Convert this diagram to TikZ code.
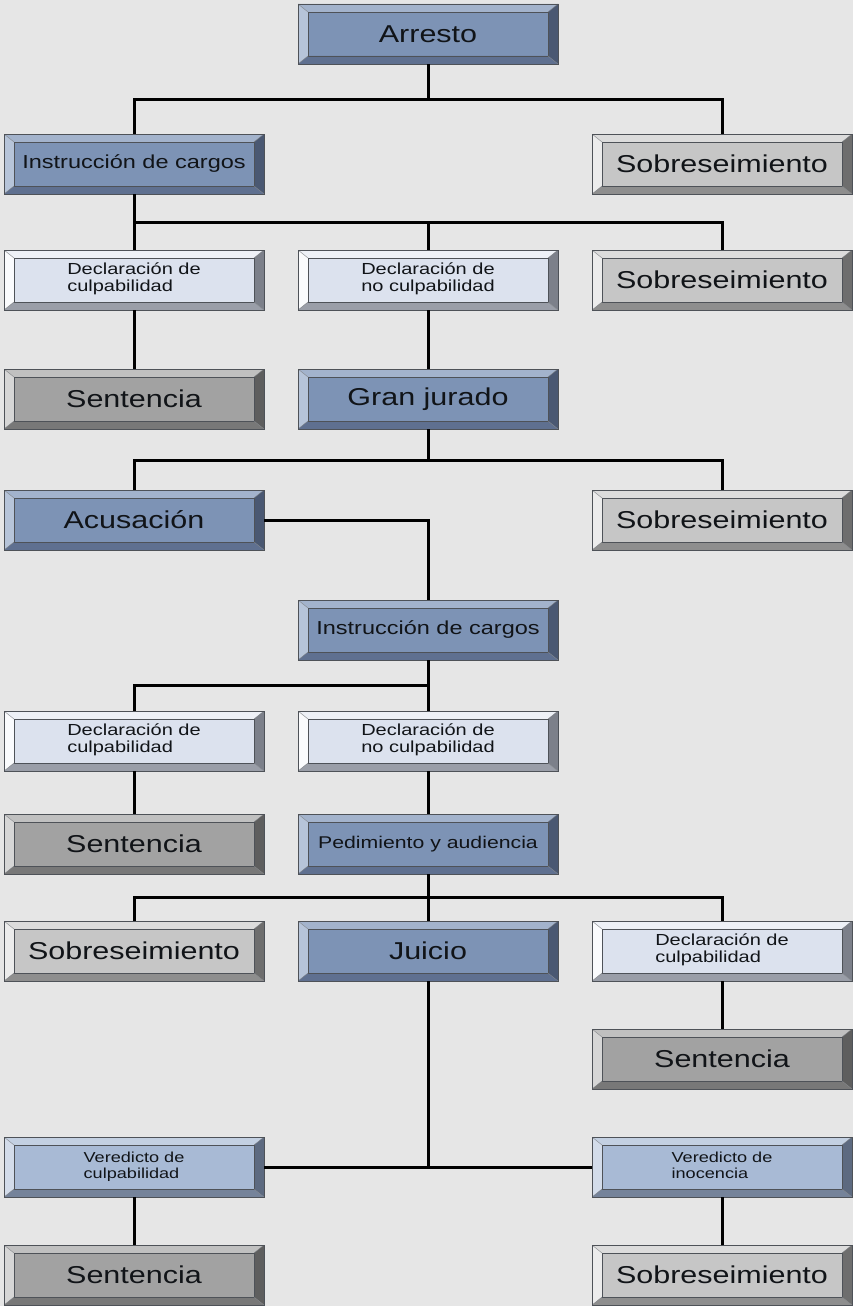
\documentclass[tikz,border=0pt]{standalone}
\usepackage{fontspec}
\setmainfont{Liberation Sans}
\usepackage{graphicx}
\usetikzlibrary{calc}
\definecolor{bgc}{HTML}{E6E6E6}
\definecolor{edgec}{HTML}{4E5258}
\definecolor{txc}{HTML}{111418}
% blue
\definecolor{bF}{HTML}{7D93B5}\definecolor{bT}{HTML}{A3B3CC}\definecolor{bL}{HTML}{B6C4D9}\definecolor{bR}{HTML}{4A5872}\definecolor{bB}{HTML}{5F7090}
% light
\definecolor{lF}{HTML}{DCE2EE}\definecolor{lT}{HTML}{EEF1F7}\definecolor{lL}{HTML}{FAFBFD}\definecolor{lR}{HTML}{7C808A}\definecolor{lB}{HTML}{9A9EA8}
% verdict
\definecolor{vF}{HTML}{A8BAD5}\definecolor{vT}{HTML}{C3D0E2}\definecolor{vL}{HTML}{D3DCEA}\definecolor{vR}{HTML}{5D6A80}\definecolor{vB}{HTML}{75839A}
% gray light
\definecolor{gF}{HTML}{C6C6C6}\definecolor{gT}{HTML}{DCDCDC}\definecolor{gL}{HTML}{ECECEC}\definecolor{gR}{HTML}{6E6E6E}\definecolor{gB}{HTML}{8E8E8E}
% gray dark
\definecolor{dF}{HTML}{A2A2A2}\definecolor{dT}{HTML}{C0C0C0}\definecolor{dL}{HTML}{D6D6D6}\definecolor{dR}{HTML}{5E5E5E}\definecolor{dB}{HTML}{787878}
\newcommand\st[1]{\scalebox{1.25}[1]{#1}}
\newcommand\two[2]{\scalebox{1.25}[1]{\begin{tabular}{@{}l@{}}#1\\#2\end{tabular}}}
\tikzset{
  bx/.style n args={5}{rectangle, minimum width=260pt, minimum height=60pt, inner sep=0pt,
    fill=#1, draw=edgec, line width=0.8pt, text=txc,
    path picture={
      \coordinate (pa) at (path picture bounding box.north west);
      \coordinate (pb) at (path picture bounding box.north east);
      \coordinate (pc) at (path picture bounding box.south east);
      \coordinate (pd) at (path picture bounding box.south west);
      \coordinate (ia) at ([shift={(10pt,-8pt)}]pa);
      \coordinate (ib) at ([shift={(-10pt,-8pt)}]pb);
      \coordinate (ic) at ([shift={(-10pt,8pt)}]pc);
      \coordinate (id) at ([shift={(10pt,8pt)}]pd);
      \fill[#2] (pa)--(pb)--(ib)--(ia)--cycle;
      \fill[#3] (pa)--(ia)--(id)--(pd)--cycle;
      \fill[#4] (pb)--(pc)--(ic)--(ib)--cycle;
      \fill[#5] (pd)--(id)--(ic)--(pc)--cycle;
      \draw[edgec, line width=0.6pt] (ia) rectangle (ic);
      \draw[edgec!70, line width=0.4pt] (pa)--(ia) (pb)--(ib) (pc)--(ic) (pd)--(id);
    }},
  blu/.style={bx={bF}{bT}{bL}{bR}{bB}},
  lit/.style={bx={lF}{lT}{lL}{lR}{lB}},
  ver/.style={bx={vF}{vT}{vL}{vR}{vB}},
  gry/.style={bx={gF}{gT}{gL}{gR}{gB}},
  drk/.style={bx={dF}{dT}{dL}{dR}{dB}},
  tbig/.style={font=\fontsize{24.4}{28}\selectfont},
  tmid/.style={font=\fontsize{18.8}{22}\selectfont},
  tsml/.style={font=\fontsize{16}{17}\selectfont},
  txs/.style={font=\fontsize{14.5}{16.5}\selectfont},
  conn/.style={draw=black, line width=3pt}
}
\begin{document}
\begin{tikzpicture}[x=1pt,y=-1pt]
\fill[bgc] (0,0) rectangle (853,1306);
\useasboundingbox (0,0) rectangle (853,1306);
% row 1
\node[blu,tbig] (arr) at (428,34) {\st{Arresto}};
% row 2
\node[blu,tmid] (ic1) at (134,164) {\st{Instrucción de cargos}};
\node[gry,tbig] (sob1) at (722,164) {\st{Sobreseimiento}};
% row 3
\node[lit,tsml] (dc1) at (134,280) {\two{Declaración de}{culpabilidad}};
\node[lit,tsml] (dn1) at (428,280) {\two{Declaración de}{no culpabilidad}};
\node[gry,tbig] (sob2) at (722,280) {\st{Sobreseimiento}};
% row 4
\node[drk,tbig] (sen1) at (134,399) {\st{Sentencia}};
\node[blu,tbig] (gj) at (428,399) {\st{Gran jurado}};
% row 5
\node[blu,tbig] (acu) at (134,520) {\st{Acusación}};
\node[gry,tbig] (sob3) at (722,520) {\st{Sobreseimiento}};
% row 6
\node[blu,tmid] (ic2) at (428,630) {\st{Instrucción de cargos}};
% row 7
\node[lit,tsml] (dc2) at (134,741) {\two{Declaración de}{culpabilidad}};
\node[lit,tsml] (dn2) at (428,741) {\two{Declaración de}{no culpabilidad}};
% row 8
\node[drk,tbig] (sen2) at (134,844) {\st{Sentencia}};
\node[blu,font=\fontsize{17}{20}\selectfont] (ped) at (428,844) {\st{Pedimiento y audiencia}};
% row 9
\node[gry,tbig] (sob4) at (134,951) {\st{Sobreseimiento}};
\node[blu,tbig] (jui) at (428,951) {\st{Juicio}};
\node[lit,tsml] (dc3) at (722,951) {\two{Declaración de}{culpabilidad}};
% row 10
\node[drk,tbig] (sen3) at (722,1059) {\st{Sentencia}};
% row 11
\node[ver,txs] (vc) at (134,1167) {\two{Veredicto de}{culpabilidad}};
\node[ver,txs] (vi) at (722,1167) {\two{Veredicto de}{inocencia}};
% row 12
\node[drk,tbig] (sen4) at (134,1275) {\st{Sentencia}};
\node[gry,tbig] (sob5) at (722,1275) {\st{Sobreseimiento}};
% connectors
\draw[conn] (arr.south) -- ++(0,35) coordinate (j1);
\draw[conn] (ic1.north) |- (j1) -| (sob1.north);
\draw[conn] (ic1.south) -- (dc1.north);
\coordinate (j2) at ($(ic1.south)!0.5!(dc1.north)$);
\draw[conn] (j2) -| (dn1.north);
\draw[conn] (j2) -| (sob2.north);
\draw[conn] (dc1.south) -- (sen1.north);
\draw[conn] (dn1.south) -- (gj.north);
\draw[conn] (gj.south) -- ++(0,31) coordinate (j3);
\draw[conn] (acu.north) |- (j3) -| (sob3.north);
\draw[conn] (acu.east) -| (ic2.north);
\draw[conn] (ic2.south) -- (dn2.north);
\coordinate (j4) at ($(ic2.south)!0.5!(dn2.north)$);
\draw[conn] (j4) -| (dc2.north);
\draw[conn] (dc2.south) -- (sen2.north);
\draw[conn] (dn2.south) -- (ped.north);
\draw[conn] (ped.south) -- (jui.north);
\coordinate (j5) at ($(ped.south)!0.5!(jui.north)$);
\draw[conn] (sob4.north) |- (j5) -| (dc3.north);
\draw[conn] (dc3.south) -- (sen3.north);
\draw[conn] (jui.south) -- (jui.south |- vc.east) coordinate (j6);
\draw[conn] (vc.east) -- (vi.west);
\draw[conn] (vc.south) -- (sen4.north);
\draw[conn] (vi.south) -- (sob5.north);
\end{tikzpicture}
\end{document}
